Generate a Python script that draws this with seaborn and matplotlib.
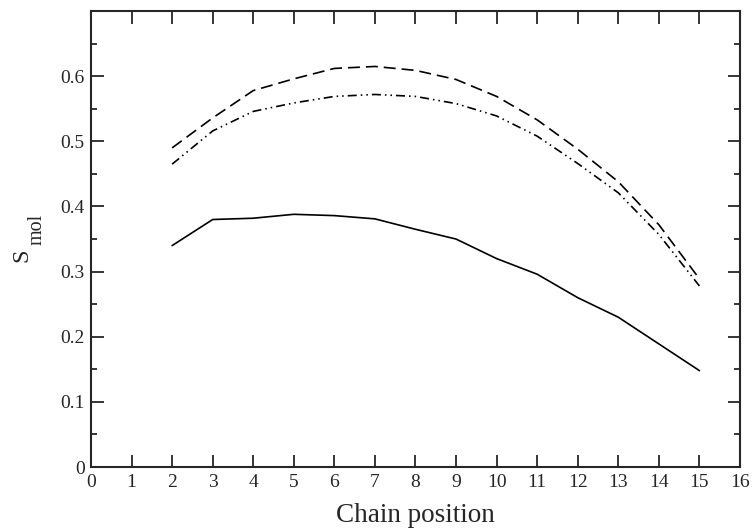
import matplotlib
matplotlib.use("Agg")
import matplotlib.pyplot as plt
import seaborn as sns
import pandas as pd
from matplotlib.ticker import MultipleLocator

positions = [2, 3, 4, 5, 6, 7, 8, 9, 10, 11, 12, 13, 14, 15]
s_solid = [0.340, 0.380, 0.382, 0.388, 0.386, 0.381, 0.365, 0.350, 0.320, 0.296, 0.260, 0.230, 0.189, 0.148]
s_dashed = [0.490, 0.536, 0.578, 0.596, 0.612, 0.615, 0.609, 0.595, 0.569, 0.533, 0.488, 0.438, 0.372, 0.289]
s_dashdot = [0.465, 0.516, 0.546, 0.559, 0.569, 0.572, 0.569, 0.558, 0.539, 0.508, 0.466, 0.421, 0.357, 0.278]

x_label = "Chain position"
y_label_main = "S"
y_label_sub = "mol"

sns.set_style("ticks")
plt.rcParams["font.family"] = ["Liberation Serif", "DejaVu Serif"]
plt.rcParams["lines.scale_dashes"] = False

W, H = 754, 529
fig = plt.figure(figsize=(W / 100, H / 100), dpi=100)
ax = fig.add_axes([0.1207, 0.1172, 0.8607, 0.8618])

df = pd.DataFrame({"x": positions, "solid": s_solid, "dashed": s_dashed, "dashdot": s_dashdot})
lw = 1.2
sns.lineplot(data=df, x="x", y="solid", ax=ax, color="black", linewidth=lw, linestyle="-")
sns.lineplot(data=df, x="x", y="dashed", ax=ax, color="black", linewidth=lw, linestyle=(0, (8.6, 4.3)))
sns.lineplot(data=df, x="x", y="dashdot", ax=ax, color="black", linewidth=lw,
             linestyle=(0, (6.5, 2.9, 1.1, 2.9, 1.1, 2.9)))

ax.set_xlim(0, 16)
ax.set_ylim(0, 0.7)
ax.xaxis.set_major_locator(MultipleLocator(1))
ax.yaxis.set_minor_locator(MultipleLocator(0.05))
ax.set_yticks([0, 0.1, 0.2, 0.3, 0.4, 0.5, 0.6])
ax.set_yticklabels(["0", "0.1", "0.2", "0.3", "0.4", "0.5", "0.6"])

ax.tick_params(axis="both", which="major", direction="in", length=9.0, width=1.3,
               top=True, right=True, labelsize=14)
ax.tick_params(axis="x", which="major", pad=5)
ax.tick_params(axis="y", which="major", pad=4.5)
ax.tick_params(axis="y", which="minor", direction="in", length=4.5, width=1.3,
               left=True, right=True)
for sp in ax.spines.values():
    sp.set_linewidth(1.5)
    sp.set_visible(True)

ax.set_xlabel(x_label, fontsize=19.5, labelpad=9)
ax.set_ylabel("")

fig.text(27 / W, 1 - 255 / H, y_label_main, fontsize=17.5, rotation=90,
         rotation_mode="anchor", ha="center", va="baseline")
fig.text(42 / W, 1 - 229 / H, y_label_sub, fontsize=14.5, rotation=90,
         rotation_mode="anchor", ha="center", va="baseline")

fig.savefig("out.png", dpi=100)
